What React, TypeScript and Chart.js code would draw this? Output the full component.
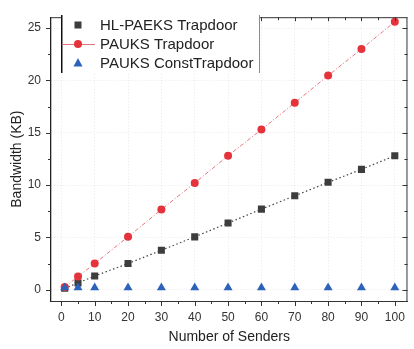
import React, { useEffect, useRef } from 'react';
import { Chart, registerables } from 'chart.js';

Chart.register(...registerables);

const senders = [1, 5, 10, 20, 30, 40, 50, 60, 70, 80, 90, 100];
const hlPaeksTrapdoor = [0.13, 0.64, 1.31, 2.5, 3.77, 5.05, 6.37, 7.7, 8.97, 10.26, 11.5, 12.8];
const pauksTrapdoor = [0.26, 1.25, 2.5, 5.05, 7.66, 10.2, 12.8, 15.3, 17.86, 20.46, 23.0, 25.6];
const pauksConstTrapdoor = [0.2, 0.2, 0.2, 0.2, 0.2, 0.2, 0.2, 0.2, 0.2, 0.2, 0.2, 0.2];

const xTicks = [0, 10, 20, 30, 40, 50, 60, 70, 80, 90, 100];
const xMinorTicks = [5, 15, 25, 35, 45, 55, 65, 75, 85, 95];
const yTicks = [0, 5, 10, 15, 20, 25];
const yMinorTicks = [2.5, 7.5, 12.5, 17.5, 22.5];

const legendLabels = ['HL-PAEKS Trapdoor', 'PAUKS Trapdoor', 'PAUKS ConstTrapdoor'];
const xTitle = 'Number of Senders';
const yTitle = 'Bandwidth (KB)';

const FONT = '"Liberation Sans", Arial, sans-serif';
const GRAY = '#3d3d3d';
const RED = '#e5333c';
const RED_LINE = '#e6737a';
const BLUE = '#2c62b9';

const framePlugin = {
  id: 'frameAndLegend',
  afterDraw(chart: any) {
    const { ctx, chartArea: a, scales } = chart;
    const xs = scales.x;
    const ys = scales.y;
    ctx.save();
    ctx.strokeStyle = '#333';
    ctx.lineWidth = 1;
    ctx.setLineDash([]);
    ctx.beginPath();
    ctx.moveTo(a.left, a.top + 0.5);
    ctx.lineTo(a.right, a.top + 0.5);
    ctx.moveTo(a.right - 0.5, a.top);
    ctx.lineTo(a.right - 0.5, a.bottom);
    const xTick = (v: number, outLen: number, inLen: number) => {
      const px = Math.round(xs.getPixelForValue(v)) + 0.5;
      ctx.moveTo(px, a.bottom);
      ctx.lineTo(px, a.bottom + outLen);
      ctx.moveTo(px, a.top);
      ctx.lineTo(px, a.top + inLen);
    };
    const yTick = (v: number, outLen: number, inLen: number) => {
      const py = Math.round(ys.getPixelForValue(v)) + 0.5;
      ctx.moveTo(a.left, py);
      ctx.lineTo(a.left - outLen, py);
      ctx.moveTo(a.right, py);
      ctx.lineTo(a.right - inLen, py);
    };
    xTicks.forEach((v) => xTick(v, 5, 4));
    xMinorTicks.forEach((v) => xTick(v, 3, 3));
    yTicks.forEach((v) => yTick(v, 5, 5));
    yMinorTicks.forEach((v) => yTick(v, 3, 3));
    ctx.stroke();

    // legend box
    const bx = 61, by = 15, bw = 198, bh = 58;
    ctx.fillStyle = '#ffffff';
    ctx.fillRect(bx, by, bw, bh);
    ctx.strokeStyle = '#111';
    ctx.lineWidth = 1.5;
    ctx.beginPath();
    ctx.moveTo(bx + 0.75, by);
    ctx.lineTo(bx + 0.75, by + bh);
    ctx.stroke();
    ctx.strokeStyle = '#8a8a8a';
    ctx.lineWidth = 1;
    ctx.beginPath();
    ctx.moveTo(bx + bw + 0.5, by);
    ctx.lineTo(bx + bw + 0.5, by + bh);
    ctx.stroke();

    const mx = 78;
    const rows = [25, 44, 63];
    ctx.fillStyle = GRAY;
    ctx.fillRect(mx - 3.5, rows[0] - 3.5, 7, 7);
    ctx.strokeStyle = RED_LINE;
    ctx.lineWidth = 1;
    ctx.beginPath();
    ctx.moveTo(62, rows[1] + 0.5);
    ctx.lineTo(95, rows[1] + 0.5);
    ctx.stroke();
    ctx.fillStyle = RED;
    ctx.beginPath();
    ctx.arc(mx, rows[1], 4, 0, Math.PI * 2);
    ctx.fill();
    ctx.fillStyle = BLUE;
    ctx.beginPath();
    ctx.moveTo(mx, rows[2] - 5);
    ctx.lineTo(mx + 4.5, rows[2] + 3.5);
    ctx.lineTo(mx - 4.5, rows[2] + 3.5);
    ctx.closePath();
    ctx.fill();

    ctx.fillStyle = '#222';
    ctx.font = '15px ' + FONT;
    ctx.textBaseline = 'middle';
    ctx.textAlign = 'left';
    legendLabels.forEach((t, i) => ctx.fillText(t, 100, rows[i] + 1));
    ctx.restore();
  },
};

export default function App() {
  const ref = useRef<HTMLCanvasElement>(null);
  useEffect(() => {
    if (!ref.current) return;
    const chart = new Chart(ref.current, {
      type: 'line',
      data: {
        labels: senders,
        datasets: [
          {
            label: legendLabels[0],
            data: senders.map((x, i) => ({ x, y: hlPaeksTrapdoor[i] })),
            borderColor: '#444',
            borderWidth: 1.2,
            borderDash: [1.5, 2.5],
            pointStyle: 'rect',
            pointRadius: 5,
            pointBackgroundColor: GRAY,
            pointBorderColor: GRAY,
            pointBorderWidth: 0,
            order: 2,
          },
          {
            label: legendLabels[1],
            data: senders.map((x, i) => ({ x, y: pauksTrapdoor[i] })),
            borderColor: RED_LINE,
            borderWidth: 1,
            borderDash: [4, 2, 1, 2],
            pointStyle: 'circle',
            pointRadius: 4,
            pointBackgroundColor: RED,
            pointBorderColor: RED,
            pointBorderWidth: 0,
            order: 1,
          },
          {
            label: legendLabels[2],
            data: senders.map((x, i) => ({ x, y: pauksConstTrapdoor[i] })),
            showLine: false,
            pointStyle: 'triangle',
            pointRadius: 5.2,
            pointBackgroundColor: BLUE,
            pointBorderColor: BLUE,
            pointBorderWidth: 0,
            order: 0,
          },
        ],
      },
      options: {
        animation: false,
        responsive: false,
        devicePixelRatio: 1,
        layout: { padding: { top: 6, right: 1, left: 0, bottom: 0 } },
        plugins: { legend: { display: false }, tooltip: { enabled: false } },
        scales: {
          x: {
            type: 'linear',
            min: -3.1,
            max: 103.8,
            afterFit: (s: any) => { s.height = 48; },
            afterBuildTicks: (s: any) => { s.ticks = xTicks.map((v) => ({ value: v })); },
            grid: { color: 'rgba(0,0,0,0.09)', lineWidth: 1, drawTicks: false },
            border: { display: true, color: '#333', width: 1, dash: [1, 2] },
            ticks: { padding: 9, color: '#333', font: { family: FONT, size: 12 }, maxRotation: 0 },
            title: { display: true, text: xTitle, color: '#222', font: { family: FONT, size: 14 }, padding: { top: 0, bottom: 3 } },
          },
          y: {
            type: 'linear',
            min: -1.08,
            max: 26.04,
            afterFit: (s: any) => { s.width = 51; },
            afterBuildTicks: (s: any) => { s.ticks = yTicks.map((v) => ({ value: v })); },
            grid: { color: 'rgba(0,0,0,0.09)', lineWidth: 1, drawTicks: false },
            border: { display: true, color: '#222', width: 1.3, dash: [1, 2] },
            ticks: { padding: 10, color: '#333', font: { family: FONT, size: 12 } },
            title: { display: true, text: yTitle, color: '#222', font: { family: FONT, size: 14 }, padding: { top: 9, bottom: 0 } },
          },
        },
      },
      plugins: [framePlugin],
    } as any);
    return () => chart.destroy();
  }, []);
  return (
    <div style={{ position: 'absolute', left: 0, top: 0, width: 414, height: 349, background: '#fff' }}>
      <canvas ref={ref} width={414} height={349} />
    </div>
  );
}
